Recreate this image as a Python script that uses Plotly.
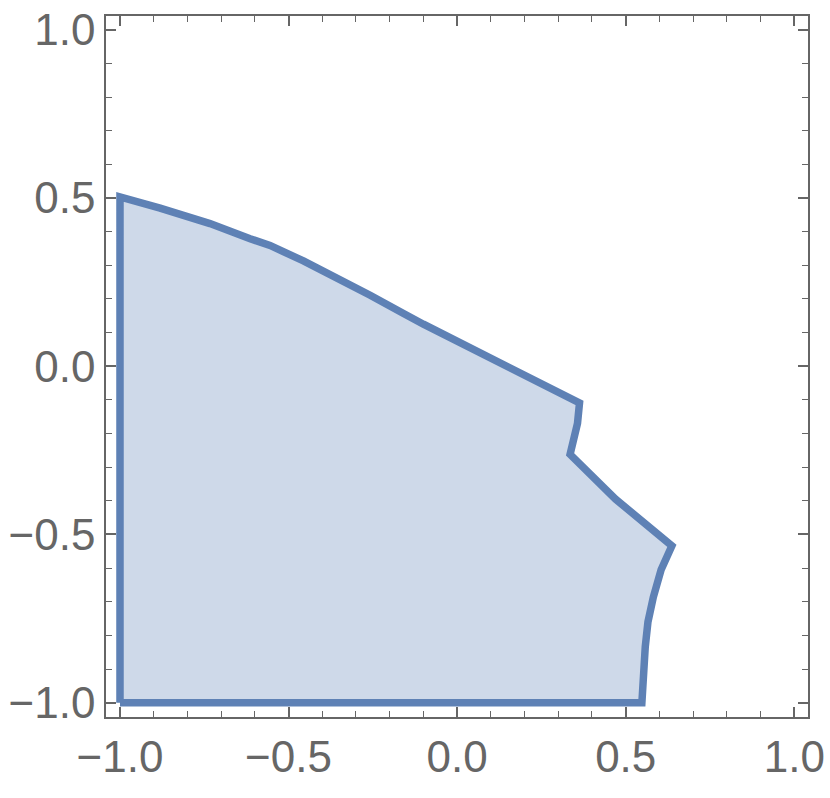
import plotly.graph_objects as go

# Boundary of the region, traversed counter-clockwise
boundary_x = [-1.0, -1.0, -0.881, -0.733, -0.614, -0.555, -0.456, -0.357, -0.258, -0.159, -0.100,
              0.363, 0.357, 0.335, 0.470, 0.637, 0.605, 0.582, 0.566, 0.558, 0.551, 0.548, -1.0]
boundary_y = [-1.0, 0.503, 0.470, 0.424, 0.379, 0.359, 0.313, 0.265, 0.211, 0.157, 0.125,
              -0.109, -0.170, -0.262, -0.395, -0.534, -0.605, -0.686, -0.760, -0.834, -0.915, -1.0, -1.0]

x_range = [-1.0415, 1.0407]
y_range = [-1.0425, 1.041]

line_color = "#5E81B5"
fill_color = "rgba(94,129,181,0.3)"
axis_color = "#666666"

fig = go.Figure()
fig.add_trace(go.Scatter(
    x=boundary_x, y=boundary_y,
    mode="lines",
    fill="toself",
    fillcolor=fill_color,
    line=dict(color=line_color, width=7.5),
    hoverinfo="skip",
    showlegend=False,
))

axis_common = dict(
    showgrid=False,
    zeroline=False,
    showline=True,
    automargin=False,
    ticklabeloverflow="allow",
    linecolor=axis_color,
    linewidth=1.6,
    mirror="allticks",
    ticks="inside",
    ticklen=10,
    tickwidth=1.6,
    tickcolor=axis_color,
    tick0=0,
    dtick=0.5,
    tickformat=".1f",
    tickfont=dict(family="Liberation Sans, Arial, sans-serif", size=44, color=axis_color),
    minor=dict(ticks="inside", ticklen=6, tickwidth=1.2, tickcolor=axis_color, dtick=0.1, tick0=0, showgrid=False),
)

fig.update_xaxes(range=x_range, **axis_common)
fig.update_yaxes(range=y_range, **axis_common)

fig.update_layout(
    width=830, height=798,
    margin=dict(l=106, r=22, t=16, b=81, pad=0),
    paper_bgcolor="white",
    plot_bgcolor="white",
)

# remove the default 8px page margin so the figure fills the window exactly
fig.write_html("out.html", config={"displayModeBar": False},
               post_script="document.body.style.margin='0';")
